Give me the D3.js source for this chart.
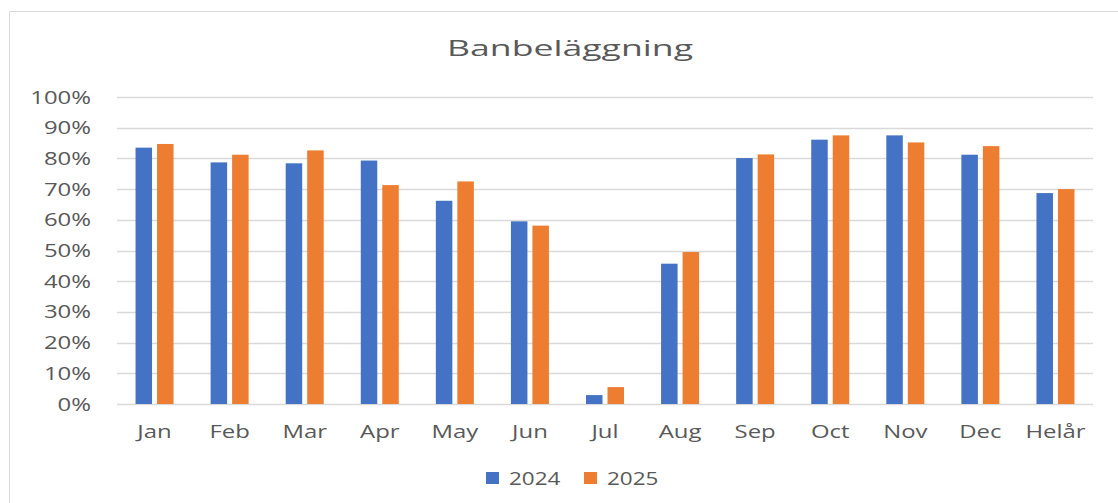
<!DOCTYPE html>
<html>
<head>
<meta charset="utf-8">
<script src="https://cdn.jsdelivr.net/npm/d3@7"></script>
<style>
  body { margin: 0; background: #fff; }
  text { font-family: "Open Sans", "Noto Sans", sans-serif; fill: #595959; }
</style>
</head>
<body>
<div id="chart"></div>
<script>
var months = ["Jan", "Feb", "Mar", "Apr", "May", "Jun", "Jul", "Aug", "Sep", "Oct", "Nov", "Dec", "Helår"];
var v2024 = [83.5, 78.7, 78.4, 79.3, 66.2, 59.5, 2.9, 45.7, 80.1, 86.1, 87.5, 81.2, 68.7];
var v2025 = [84.7, 81.2, 82.6, 71.3, 72.5, 58.1, 5.5, 49.5, 81.3, 87.5, 85.2, 84.0, 70.0];
var seriesNames = ["2024", "2025"];
var colors = ["#4472C4", "#ED7D31"];
var yTicks = [0, 10, 20, 30, 40, 50, 60, 70, 80, 90, 100];

var W = 1118, H = 503;
var mLeft = 117, mRight = 1093, mTop = 97, mBottom = 404;
var sx = 1.33; // labels in the reference are drawn wide

var svg = d3.select("#chart").append("svg")
  .attr("width", W)
  .attr("height", H);

// places a text at (px, py), stretched sideways by s
function label(g, px, py, s) {
  return g.append("text")
    .attr("transform", "translate(" + px + "," + py + ") scale(" + s + ",1)");
}

// outer chart border
svg.append("path")
  .attr("d", "M9.5," + H + " V11.5 H" + W)
  .attr("fill", "none")
  .attr("stroke", "#d9d9d9")
  .attr("stroke-width", 1);

label(svg, 570, 56, 1.62)
  .attr("text-anchor", "middle")
  .style("font-size", "22px")
  .text("Banbeläggning");

var x = d3.scaleBand().domain(months).range([mLeft, mRight]);
var y = d3.scaleLinear().domain([0, 100]).range([mBottom, mTop]);

// gridlines
svg.append("g").selectAll("line")
  .data(yTicks)
  .enter().append("line")
  .attr("x1", mLeft)
  .attr("x2", mRight)
  .attr("y1", function (d) { return Math.round(y(d)) + 0.5; })
  .attr("y2", function (d) { return Math.round(y(d)) + 0.5; })
  .attr("stroke", "#d9d9d9")
  .attr("stroke-width", 1.5);

// y labels
var gy = svg.append("g");
yTicks.forEach(function (d) {
  label(gy, 91, y(d) + 6.5, sx)
    .attr("text-anchor", "end")
    .style("font-size", "18px")
    .text(d + "%");
});

// x labels
var gx = svg.append("g");
months.forEach(function (d) {
  label(gx, x(d) + x.bandwidth() / 2, 438, sx)
    .attr("text-anchor", "middle")
    .style("font-size", "18px")
    .text(d);
});

var barW = 16.5, innerGap = 5;
var series = [v2024, v2025];

series.forEach(function (vals, si) {
  svg.append("g").selectAll("rect")
    .data(vals)
    .enter().append("rect")
    .attr("x", function (d, i) {
      var c = x(months[i]) + x.bandwidth() / 2;
      return si == 0 ? c - innerGap / 2 - barW : c + innerGap / 2;
    })
    .attr("y", function (d) { return y(d); })
    .attr("width", barW)
    .attr("height", function (d) { return mBottom - y(d); })
    .attr("fill", colors[si]);
});

// legend
var legendX = [486, 584];
var lg = svg.append("g");
seriesNames.forEach(function (d, i) {
  lg.append("rect")
    .attr("x", legendX[i])
    .attr("y", 472)
    .attr("width", 13)
    .attr("height", 12)
    .attr("fill", colors[i]);
  label(lg, legendX[i] + 23, 485, 1.25)
    .style("font-size", "18px")
    .text(d);
});
</script>
</body>
</html>
